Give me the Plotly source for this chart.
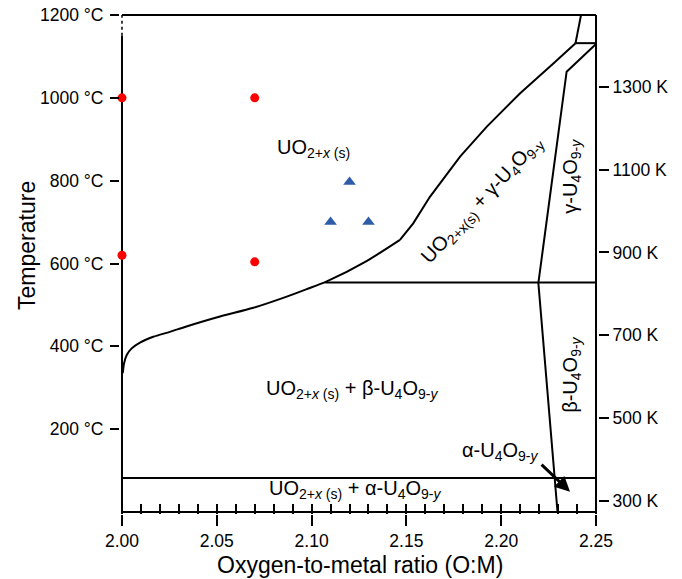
import plotly.graph_objects as go

# ---------------- data ----------------
# UO2+x solubility boundary (O:M, °C): smooth lower part and straighter upper part
om_sol_low = [2.0004, 2.0011, 2.0025, 2.0051, 2.0095, 2.0165, 2.0253, 2.0340, 2.0517,
              2.0693, 2.0869, 2.0974, 2.1080, 2.1290, 2.1466]
t_sol_low = [335, 359, 379, 395, 409, 423, 435, 448, 472,
             493, 520, 538, 557, 606, 657]
om_sol_up = [2.1466, 2.1536, 2.1624, 2.1783, 2.1923, 2.2100, 2.2275, 2.2392]
t_sol_up = [657, 697, 761, 858, 930, 1011, 1083, 1132]

# upper short boundary and high-T horizontal
om_top = [2.2392, 2.2421]
t_top = [1132, 1200]
om_hi = [2.2392, 2.2500]
t_hi = [1132, 1132]

# U4O9-y left boundary
om_u4o9 = [2.2500, 2.2345, 2.2196, 2.2297]
t_u4o9 = [1130, 1063, 553, 0]

# beta/gamma transition and alpha/beta transition
om_bg = [2.107, 2.25]
t_bg = [554, 554]
om_ab = [2.00, 2.25]
t_ab = [82, 82]

# left boundary (solid / dotted) and frame
om_left = [2.00, 2.00]
t_left_solid = [0, 1150]
t_left_dot = [1150, 1200]
om_frame_top = [2.00, 2.25]
t_frame_top = [1200, 1200]
om_frame_right = [2.25, 2.25]
t_frame_right = [0, 1200]
om_frame_bottom = [2.00, 2.25]
t_frame_bottom = [0, 0]

# measurement points
om_red = [2.00, 2.07, 2.00, 2.07]
t_red = [1000, 1000, 620, 604]
om_blue = [2.11, 2.12, 2.13]
t_blue = [700, 797, 700]

# ticks
x_ticks = [2.00, 2.05, 2.10, 2.15, 2.20, 2.25]
c_ticks = [200, 400, 600, 800, 1000, 1200]
k_ticks = [300, 500, 700, 900, 1100, 1300]

FONT = "Liberation Sans, Arial, sans-serif"
LINE = dict(color="black", width=2)

x_range = [1.99895, 2.25105]
c_range = [-4.83, 1204.83]
k_range = [c_range[0] + 273.15, c_range[1] + 273.15]

fig = go.Figure()

def add_line(x, y, line=LINE, xaxis="x", shape="linear"):
    ln = dict(line)
    if shape != "linear":
        ln.update(shape=shape, smoothing=0.8)
    fig.add_trace(go.Scatter(x=x, y=y, mode="lines", line=ln,
                             hoverinfo="skip", showlegend=False, xaxis=xaxis))

add_line(om_sol_low, t_sol_low, shape="spline")
add_line(om_sol_up, t_sol_up)
add_line(om_top, t_top)
add_line(om_hi, t_hi)
add_line(om_u4o9, t_u4o9)
add_line(om_bg, t_bg)
add_line(om_ab, t_ab)
add_line(om_left, t_left_solid)
add_line(om_left, t_left_dot, line=dict(color="black", width=1.5, dash="dot"))
add_line(om_frame_top, t_frame_top, xaxis="x2")
add_line(om_frame_right, t_frame_right)
add_line(om_frame_bottom, t_frame_bottom)

fig.add_trace(go.Scatter(x=om_red, y=t_red, mode="markers",
                         marker=dict(color="#ff0000", size=9, symbol="circle"),
                         cliponaxis=False, showlegend=False, hoverinfo="skip"))
fig.add_trace(go.Scatter(x=om_blue, y=t_blue, mode="markers",
                         marker=dict(color="#2e5ca8", size=11, symbol="triangle-up"),
                         cliponaxis=False, showlegend=False, hoverinfo="skip"))
# dummy trace for the kelvin axis
fig.add_trace(go.Scatter(x=[None], y=[None], yaxis="y2", showlegend=False))

tickfont = dict(family=FONT, size=17.5, color="black")
fig.update_layout(
    width=682, height=579,
    margin=dict(l=120, r=84, t=13, b=65),
    paper_bgcolor="white", plot_bgcolor="white",
    font=dict(family=FONT, color="black"),
    xaxis=dict(range=x_range, tickvals=x_ticks, ticktext=[f"{v:.2f}" for v in x_ticks],
               ticks="outside", ticklen=11, tickwidth=2, tickcolor="black",
               showgrid=False, zeroline=False, showline=False, tickfont=tickfont,
               automargin=False),
    xaxis2=dict(range=x_range, overlaying="x", anchor="y", side="bottom",
                tick0=2.0, dtick=0.01, ticks="inside", ticklen=10, tickwidth=2,
                tickcolor="black", showticklabels=False, showgrid=False,
                zeroline=False, showline=False, automargin=False),
    yaxis=dict(range=c_range, tickvals=c_ticks, ticktext=[f"{v} °C" for v in c_ticks],
               ticks="outside", ticklen=9, tickwidth=2, tickcolor="black",
               showgrid=False, zeroline=False, showline=False, tickfont=tickfont,
               ticklabelstandoff=3, automargin=False),
    yaxis2=dict(range=k_range, overlaying="y", side="right", anchor="x",
                tickvals=k_ticks, ticktext=[f"{v} K" for v in k_ticks],
                ticks="outside", ticklen=10, tickwidth=2, tickcolor="black",
                showgrid=False, zeroline=False, showline=False, tickfont=tickfont,
                automargin=False),
)

LAB = dict(family=FONT, size=20, color="black")
ann = [
    dict(x=2.101, y=878, text="UO<sub>2+<i>x</i> (s)</sub>"),
    dict(x=2.1213, y=295, text="UO<sub>2+<i>x</i> (s)</sub> + β-U<sub>4</sub>O<sub>9-<i>y</i></sub>"),
    dict(x=2.123, y=55, text="UO<sub>2+<i>x</i> (s)</sub> + α-U<sub>4</sub>O<sub>9-<i>y</i></sub>"),
    dict(x=2.1994, y=145, text="α-U<sub>4</sub>O<sub>9-<i>y</i></sub>"),
    dict(x=2.1897, y=753, text="UO<sub>2+x(s)</sub> + γ-U<sub>4</sub>O<sub>9-y</sub>", textangle=-47),
    dict(x=2.2373, y=812, text="γ-U<sub>4</sub>O<sub>9-<i>y</i></sub>", textangle=-90),
    dict(x=2.2373, y=331, text="β-U<sub>4</sub>O<sub>9-<i>y</i></sub>", textangle=-90),
]
for a in ann:
    fig.add_annotation(xref="x", yref="y", showarrow=False, font=LAB,
                       xanchor="center", yanchor="middle", **a)

# arrow to alpha-U4O9 region
fig.add_annotation(xref="x", yref="y", axref="x", ayref="y",
                   x=2.2363, y=49, ax=2.2205, ay=118, text="",
                   showarrow=True, arrowhead=2, arrowsize=1, arrowwidth=3,
                   arrowcolor="black", standoff=0)

# axis titles
fig.add_annotation(xref="paper", yref="paper", x=-0.1946, y=0.537, text="Temperature",
                   textangle=-90, showarrow=False, xanchor="center", yanchor="middle",
                   font=dict(family=FONT, size=23, color="black"))
fig.add_annotation(xref="paper", yref="paper", x=0.502, y=-0.102,
                   text="Oxygen-to-metal ratio (O:M)", showarrow=False,
                   xanchor="center", yanchor="middle",
                   font=dict(family=FONT, size=23, color="black"))

fig.write_html("out.html", config={"displayModeBar": False},
               post_script="document.body.style.margin='0px';")
